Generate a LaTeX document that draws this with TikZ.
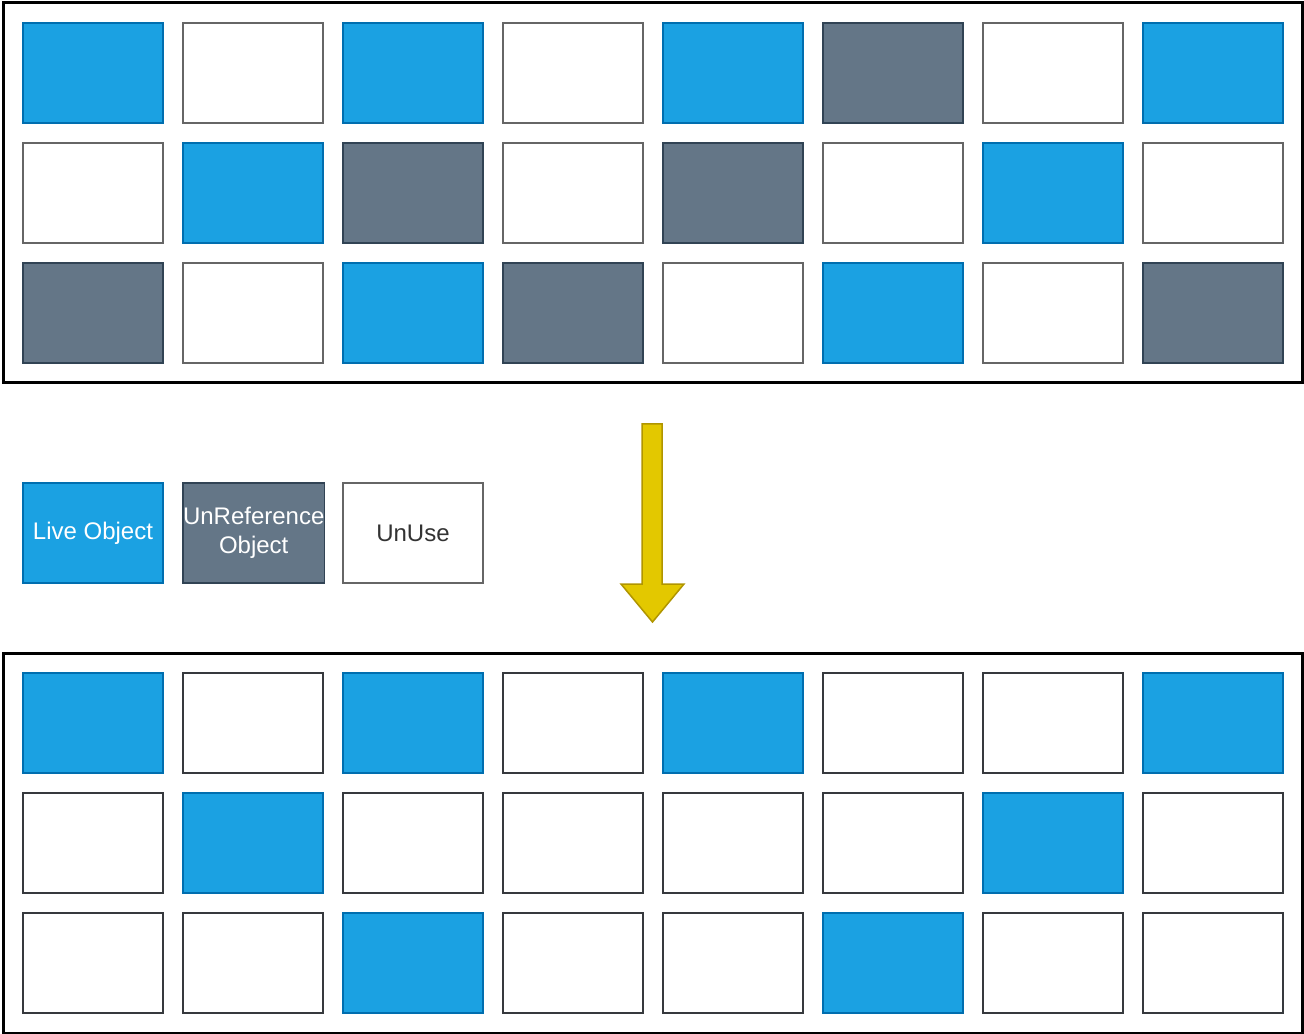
\documentclass[tikz,border=0pt]{standalone}
\usepackage{fontspec}
\setmainfont{Liberation Sans}
\definecolor{liveF}{HTML}{1BA1E2}
\definecolor{liveS}{HTML}{006EAF}
\definecolor{unrefF}{HTML}{647687}
\definecolor{unrefS}{HTML}{314354}
\definecolor{unuseS}{HTML}{666666}
\definecolor{unuseB}{HTML}{36393D}
\definecolor{textD}{HTML}{333333}
\definecolor{arrF}{HTML}{E3C800}
\definecolor{arrS}{HTML}{B09500}
\tikzset{
  cell/.style={draw, line width=1.125pt, minimum width=105pt, minimum height=75pt,
    inner sep=0pt, outer sep=0pt, anchor=north west, align=center,
    font=\fontsize{18}{21.6}\selectfont},
  live/.style={cell, fill=liveF, draw=liveS, text=white},
  unref/.style={cell, fill=unrefF, draw=unrefS, text=white},
  unuse/.style={cell, fill=white, draw=unuseS, text=textD},
  unuseb/.style={cell, fill=white, draw=unuseB, text=textD},
  container/.style={draw=black, line width=2.25pt},
}
\begin{document}
\begin{tikzpicture}[x=0.75pt, y=-0.75pt]
\useasboundingbox (0,0) rectangle (1304,1034);
% containers
\draw[container] (3,3) rectangle (1302,383);
\draw[container] (3,653) rectangle (1302,1033);
% top grid
\foreach \row [count=\j from 0] in {
  {live,unuse,live,unuse,live,unref,unuse,live},
  {unuse,live,unref,unuse,unref,unuse,live,unuse},
  {unref,unuse,live,unref,unuse,live,unuse,unref}} {
  \foreach \s [count=\i from 0] in \row {
    \node[style=\s] (t-\j-\i) at ({23+160*\i},{23+120*\j}) {};
  }
}
% bottom grid
\foreach \row [count=\j from 0] in {
  {live,unuseb,live,unuseb,live,unuseb,unuseb,live},
  {unuseb,live,unuseb,unuseb,unuseb,unuseb,live,unuseb},
  {unuseb,unuseb,live,unuseb,unuseb,live,unuseb,unuseb}} {
  \foreach \s [count=\i from 0] in \row {
    \node[style=\s] (b-\j-\i) at ({23+160*\i},{673+120*\j}) {};
  }
}
% legend
\node[live] (lg-live) at (23,483) {Live Object};
\node[unref] (lg-unref) at (183,483) {UnReference\\Object};
\node[unuse] (lg-unuse) at (343,483) {UnUse};
% arrow
\draw[fill=arrF, draw=arrS, line width=1.125pt, line join=miter]
  (642,424) -- (662,424) -- (662,584) -- (684,584) -- (652.5,622)
  -- (621,584) -- (642,584) -- cycle;
\end{tikzpicture}
\end{document}
